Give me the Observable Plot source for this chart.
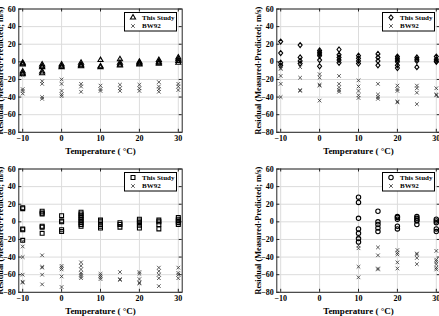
<!DOCTYPE html>
<html>
<head>
<meta charset="utf-8">
<script src="https://cdn.jsdelivr.net/npm/d3@7"></script>
<script src="https://cdn.jsdelivr.net/npm/@observablehq/plot@0.6"></script>
<style>
  html, body { margin: 0; padding: 0; overflow: hidden; background: #fff; }
  #fig { position: relative; width: 439px; height: 316px; overflow: hidden; }
  .panel { position: absolute; width: 220px; height: 158px; }
  .panel svg { overflow: visible; }
  .legend { position: absolute; }
</style>
</head>
<body>
<div id="fig"></div>
<script>
// Residuals grouped by temperature: [temperature °C, [residuals m/s]]
const triangleStudy = [
  [-10, [-1, -2, -3, -11, -13, -14]],
  [-5, [-3, -5, -6, -11, -13]],
  [0, [-3, -5, -6]],
  [5, [-1, -3, -4, -5]],
  [10, [2, -5, -6]],
  [15, [3, -1, -3, -4]],
  [20, [0, -1, -2, -3]],
  [25, [2, 0, -1, -2]],
  [30, [5, 3, 1, -1]]
];
const triangleBW92 = [
  [-10, [-15, -31, -33, -36]],
  [-5, [-22, -25, -40, -42]],
  [0, [-20, -25, -33, -37, -39]],
  [5, [-25, -28, -34]],
  [10, [-27, -31, -33]],
  [15, [-26, -30, -33]],
  [20, [-26, -30, -33]],
  [25, [-23, -28, -31, -34]],
  [30, [-25, -28, -32]]
];
const diamondStudy = [
  [-10, [23, 10, -1, -4]],
  [-5, [19, 5, 1, -2]],
  [0, [13, 11, 9, 7, 2, -5]],
  [5, [14, 8, 5, 2, -1]],
  [10, [7, 4, 1, -2]],
  [15, [9, 5, 1, -4]],
  [20, [6, 4, 2, 0, -4, -7]],
  [25, [5, 3, 1, -6]],
  [30, [6, 3, 1, 0]]
];
const diamondBW92 = [
  [-10, [-5, -7, -8, -16, -25, -40]],
  [-5, [-6, -18, -32, -33]],
  [0, [-14, -18, -26, -27, -44]],
  [5, [-16, -25, -29, -32, -34]],
  [10, [-21, -28, -33, -38, -41]],
  [15, [-25, -37, -40, -42]],
  [20, [-27, -31, -33, -45, -46]],
  [25, [-27, -30, -35, -48]],
  [30, [-30, -37, -38]]
];
const squareStudy = [
  [-10, [16, 15, -8, -9, -21]],
  [-5, [12, 10, 9, -5, -6, -13]],
  [0, [7, 1, 0, -9, -11]],
  [5, [11, 9, 7, 5, 3, 1, -1, -3, -5]],
  [10, [2, 0, -3, -5, -7]],
  [15, [-1, -3, -6]],
  [20, [3, 1, -1, -4, -7]],
  [25, [2, 0, -3, -8]],
  [30, [5, 3, 1, -1, -3]]
];
const squareBW92 = [
  [-10, [-22, -28, -40, -60, -68, -69]],
  [-5, [-38, -51, -52, -60, -71]],
  [0, [-50, -52, -54, -62, -74]],
  [5, [-46, -50, -54, -58, -60, -62, -64]],
  [10, [-59, -61, -63, -65]],
  [15, [-57, -65, -66]],
  [20, [-57, -59, -65, -69, -70]],
  [25, [-52, -56, -60, -64, -73]],
  [30, [-52, -58, -60, -64]]
];
const circleStudy = [
  [10, [28, 22, 4, -8, -13, -19, -23]],
  [15, [12, 0, -3, -7, -11]],
  [20, [6, 5, 3, -5, -8]],
  [25, [6, 4, 2, 1, -3]],
  [30, [3, 1, -1, -8, -11]]
];
const circleBW92 = [
  [10, [-17, -27, -30, -51, -63]],
  [15, [-29, -38, -53, -54]],
  [20, [-32, -35, -37, -46, -53]],
  [25, [-36, -37, -41, -48]],
  [30, [-33, -43, -45, -48, -52, -54]]
];

const xTicks = [-10, 0, 10, 20, 30];
const yTicks = [-80, -60, -40, -20, 0, 20, 40, 60];
const xDomain = [-11, 31];
const yDomain = [-80, 60];
const xTitle = "Temperature ( °C)";
const yTitle = "Residual (Measured-Predicted; m/s)";
const seriesNames = ["This Study", "BW92"];

const FONT = "'Liberation Serif', 'Times New Roman', serif";
const W = 220, H = 158;
const M = {top: 8.5, right: 38.3, bottom: 26.2, left: 18.3};
const innerW = W - M.left - M.right;
const innerH = H - M.top - M.bottom;

// a diamond a little taller than it is wide
const tallDiamond = {
  draw(context, size) {
    const w = Math.sqrt(size / 2.5);
    const h = w * 1.25;
    context.moveTo(0, -h);
    context.lineTo(w, 0);
    context.lineTo(0, h);
    context.lineTo(-w, 0);
    context.closePath();
  }
};

const flatten = (groups) => groups.flatMap(([t, rs]) => rs.map((r) => ({t, r})));

function panel({study, bw92, symbol, r, left, top}) {
  const chart = Plot.plot({
    width: W,
    height: H,
    marginTop: M.top,
    marginRight: M.right,
    marginBottom: M.bottom,
    marginLeft: M.left,
    style: {fontFamily: FONT, fontWeight: "bold", fontSize: "8px", color: "#000", background: "transparent"},
    x: {domain: xDomain},
    y: {domain: yDomain},
    marks: [
      Plot.gridX(xTicks, {stroke: "#dcdcdc", strokeOpacity: 1}),
      Plot.gridY(yTicks, {stroke: "#dcdcdc", strokeOpacity: 1}),
      // inward tick marks on all four sides
      Plot.tickX(xTicks, {x: (d) => d, insetTop: innerH - 3, stroke: "#262626"}),
      Plot.tickX(xTicks, {x: (d) => d, insetBottom: innerH - 3, stroke: "#262626"}),
      Plot.tickY(yTicks, {y: (d) => d, insetRight: innerW - 3, stroke: "#262626"}),
      Plot.tickY(yTicks, {y: (d) => d, insetLeft: innerW - 3, stroke: "#262626"}),
      Plot.axisX({ticks: xTicks, tickSize: 0, tickPadding: 3, label: null, fontSize: 8}),
      Plot.axisY({ticks: yTicks, tickSize: 0, tickPadding: 3, label: null, fontSize: 8}),
      Plot.dot(flatten(study), {x: "t", y: "r", symbol, r, stroke: "#000", strokeWidth: 1.1, fill: "none"}),
      Plot.dot(flatten(bw92), {x: "t", y: "r", symbol: "times", r: 1.8, stroke: "#333", strokeWidth: 0.8}),
      Plot.frame({stroke: "#262626", strokeWidth: 1}),
      Plot.text([xTitle], {frameAnchor: "bottom", dy: 19, lineAnchor: "middle", textAnchor: "middle", fontSize: 9}),
      Plot.text([yTitle], {frameAnchor: "left", dx: -18, rotate: -90, lineAnchor: "middle", textAnchor: "middle", fontSize: 8.3})
    ]
  });

  const div = document.createElement("div");
  div.className = "panel";
  div.style.left = left + "px";
  div.style.top = top + "px";
  div.appendChild(chart);

  // legend box in the upper right of the axes
  const lw = 53, lh = 19.5;
  const leg = d3.create("svg")
    .attr("class", "legend")
    .attr("width", lw)
    .attr("height", lh)
    .style("left", (M.left + 106) + "px")
    .style("top", (M.top + 3.5) + "px")
    .style("font-family", FONT)
    .style("font-weight", "bold")
    .style("font-size", "7px");
  leg.append("rect")
    .attr("x", 0.5).attr("y", 0.5)
    .attr("width", lw - 1).attr("height", lh - 1)
    .attr("fill", "#fff").attr("stroke", "#000").attr("stroke-width", 1);
  const symbols = [symbol, d3.symbolTimes];
  const sizes = [r, 1.8];
  const rows = [5.5, 14];
  seriesNames.forEach((name, i) => {
    leg.append("path")
      .attr("transform", `translate(9,${rows[i]})`)
      .attr("d", d3.symbol(symbols[i], Math.PI * sizes[i] * sizes[i])())
      .attr("fill", "none")
      .attr("stroke", i === 0 ? "#000" : "#333")
      .attr("stroke-width", i === 0 ? 1.1 : 0.8);
    leg.append("text")
      .attr("x", 18)
      .attr("y", rows[i])
      .attr("dy", "0.35em")
      .text(name);
  });
  div.appendChild(leg.node());
  document.getElementById("fig").appendChild(div);
}

panel({study: triangleStudy, bw92: triangleBW92, symbol: d3.symbolTriangle, r: 1.9, left: 0, top: 0});
panel({study: diamondStudy, bw92: diamondBW92, symbol: tallDiamond, r: 1.8, left: 258, top: 0});
panel({study: squareStudy, bw92: squareBW92, symbol: d3.symbolSquare, r: 2.2, left: 0, top: 159.5});
panel({study: circleStudy, bw92: circleBW92, symbol: d3.symbolCircle, r: 2.2, left: 258, top: 159.5});
</script>
</body>
</html>
